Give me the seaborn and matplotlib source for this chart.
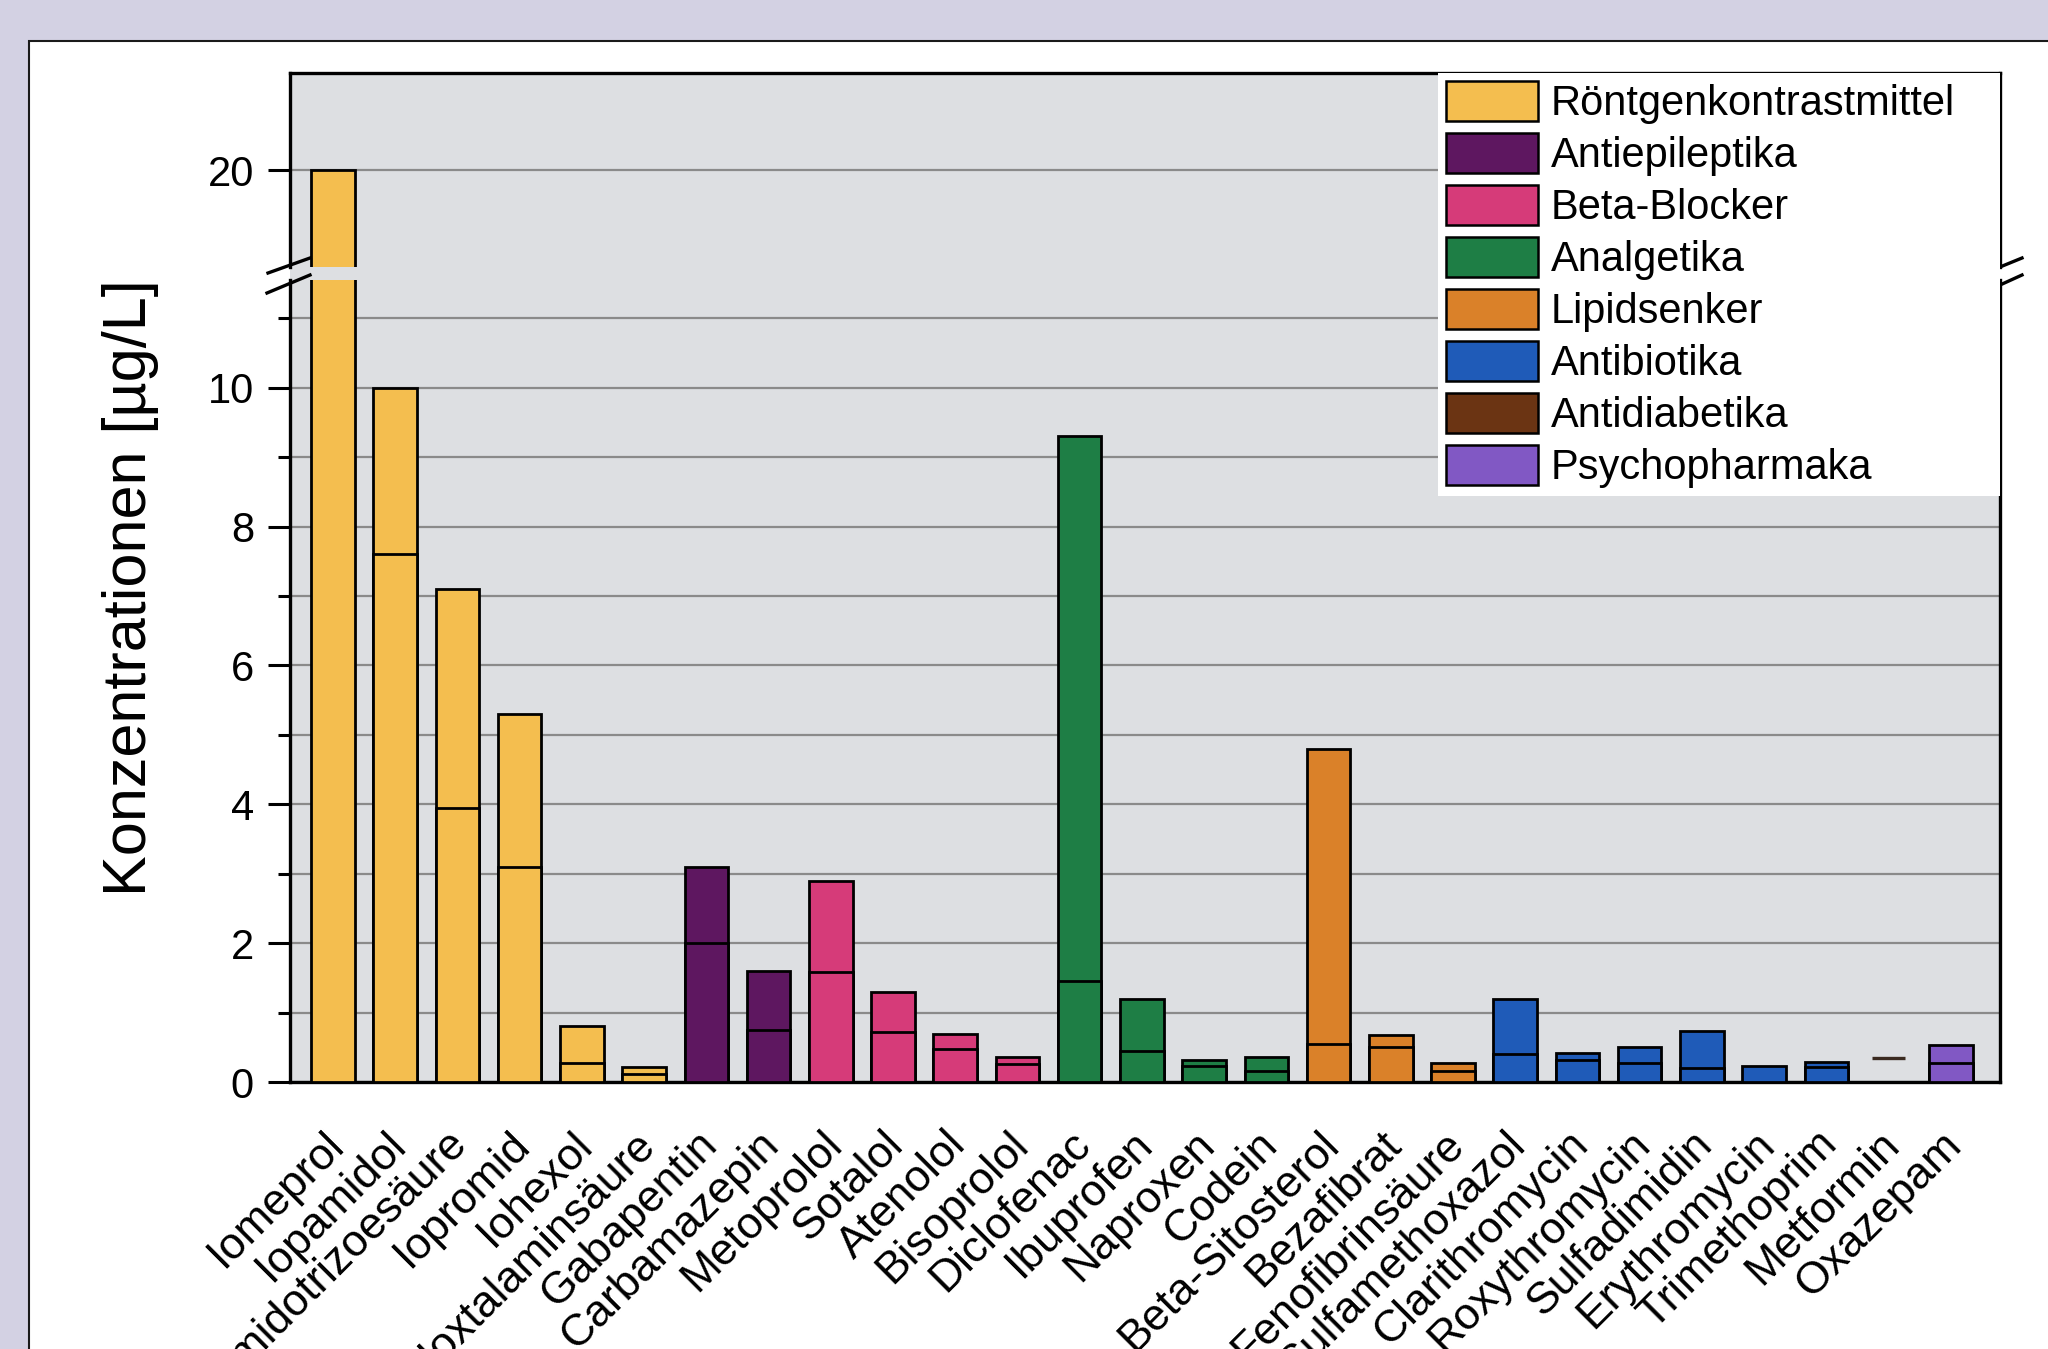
import numpy as np
import pandas as pd
import matplotlib
matplotlib.use("Agg")
import matplotlib.pyplot as plt
import matplotlib.transforms as mtransforms
import seaborn as sns
from matplotlib.patches import Patch, Rectangle
from matplotlib.lines import Line2D

# ---------------- data ----------------
substances = ["Iomeprol", "Iopamidol", "Amidotrizoesäure", "Iopromid", "Iohexol",
              "Ioxtalaminsäure", "Gabapentin", "Carbamazepin", "Metoprolol", "Sotalol",
              "Atenolol", "Bisoprolol", "Diclofenac", "Ibuprofen", "Naproxen", "Codein",
              "Beta-Sitosterol", "Bezafibrat", "Fenofibrinsäure", "Sulfamethoxazol",
              "Clarithromycin", "Roxythromycin", "Sulfadimidin", "Erythromycin",
              "Trimethoprim", "Metformin", "Oxazepam"]
groups = ["Röntgenkontrastmittel", "Antiepileptika", "Beta-Blocker", "Analgetika",
          "Lipidsenker", "Antibiotika", "Antidiabetika", "Psychopharmaka"]
group_of = (["Röntgenkontrastmittel"] * 6 + ["Antiepileptika"] * 2 + ["Beta-Blocker"] * 4
            + ["Analgetika"] * 4 + ["Lipidsenker"] * 3 + ["Antibiotika"] * 6
            + ["Antidiabetika"] + ["Psychopharmaka"])
max_values = [20.0, 10.0, 7.1, 5.3, 0.81, 0.22, 3.1, 1.6, 2.9, 1.3, 0.69, 0.36, 9.3, 1.2,
              0.32, 0.36, 4.8, 0.68, 0.28, 1.2, 0.42, 0.51, 0.74, 0.23, 0.29, 0.35, 0.53]
inner_values = [np.nan, 7.6, 3.95, 3.1, 0.28, 0.12, 2.0, 0.75, 1.58, 0.72, 0.48, 0.26, 1.46,
                0.44, 0.23, 0.16, 0.55, 0.50, 0.16, 0.40, 0.32, 0.28, 0.20, np.nan, 0.22,
                np.nan, 0.27]
line_only = ["Metformin"]
group_colors = ["#F4BE4F", "#5E1760", "#D63B79", "#1E7E45", "#DA8129", "#1F5BB8",
                "#6B3413", "#8158C4"]
y_ticks_low = [0, 2, 4, 6, 8, 10]
y_ticks_high = [20]

# ---------------- setup ----------------
plt.rcParams["font.family"] = ["Liberation Sans", "DejaVu Sans"]
W, H = 2048, 1349
def fx(p): return p / W
def fy(p): return 1 - p / H

palette = dict(zip(groups, group_colors))
df = pd.DataFrame({"Substanz": substances, "Gruppe": group_of,
                   "Max": max_values, "Innen": inner_values})
df_bar = df[~df["Substanz"].isin(line_only)]
df_inner = df_bar.dropna(subset=["Innen"])
df_line = df[df["Substanz"].isin(line_only)]

bg = "#DDDFE2"
fig = plt.figure(figsize=(20.48, 13.49), dpi=100, facecolor="#D3D1E3")
fig.add_artist(Rectangle((fx(29), -0.1), 1.2, fy(41) + 0.1, transform=fig.transFigure,
                         facecolor="white", edgecolor="#1a1a1a", lw=1.5, zorder=-2))

left, right = 290, 2000
# background continues through the axis break
fig.add_artist(Rectangle((fx(left), fy(281)), fx(right) - fx(left), (281 - 266) / H,
                         transform=fig.transFigure, facecolor=bg, edgecolor="none",
                         zorder=-1))
ax_lo = fig.add_axes([fx(left), fy(1082), fx(right) - fx(left), (1082 - 280) / H])
ax_hi = fig.add_axes([fx(left), fy(267), fx(right) - fx(left), (267 - 73) / H])

bw = 0.7
for ax in (ax_lo, ax_hi):
    ax.set_facecolor(bg)
    sns.barplot(data=df_bar, x="Substanz", y="Max", hue="Gruppe", order=substances,
                hue_order=groups, palette=palette, dodge=False, width=bw, saturation=1,
                edgecolor="black", linewidth=2.0, legend=False, ax=ax, zorder=3)
    sns.barplot(data=df_inner, x="Substanz", y="Innen", hue="Gruppe", order=substances,
                hue_order=groups, palette=palette, dodge=False, width=bw, saturation=1,
                edgecolor="black", linewidth=2.0, legend=False, ax=ax, zorder=4)
    for _, r in df_line.iterrows():
        i = substances.index(r["Substanz"])
        ax.hlines(r["Max"], i - bw / 2 + 0.08, i + bw / 2 - 0.08, color="#3a2a20",
                  lw=2.4, zorder=4)
    ax.set_xlim(-0.69, 26.79)
    ax.set_xlabel("")
    ax.set_ylabel("")
    ax.set_axisbelow(True)
    for s in ax.spines.values():
        s.set_linewidth(2.4)
        s.set_color("black")

ax_lo.set_ylim(0, 11.55)
ax_lo.set_yticks(y_ticks_low)
ax_lo.set_yticks([1, 3, 5, 7, 9, 11], minor=True)
ax_lo.grid(axis="y", which="both", color="#8A8A8A", lw=1.6)
ax_lo.spines["top"].set_visible(False)
ax_lo.tick_params(axis="y", which="major", length=16, width=2.2, labelsize=30, pad=10)
ax_lo.tick_params(axis="y", which="minor", length=9, width=2.2)
ax_lo.tick_params(axis="x", length=0, pad=14)
ax_lo.set_xticks(range(len(substances)))
ax_lo.set_xticklabels(substances, rotation=45, ha="right", va="top",
                      rotation_mode="anchor", fontsize=32)
shift = mtransforms.ScaledTranslation(-0.10, -0.22, fig.dpi_scale_trans)
for lab in ax_lo.get_xticklabels():
    lab.set_transform(lab.get_transform() + shift)

ax_hi.set_ylim(18.6, 21.4)
ax_hi.set_yticks(y_ticks_high)
ax_hi.grid(axis="y", which="major", color="#8A8A8A", lw=1.6)
ax_hi.spines["bottom"].set_visible(False)
ax_hi.tick_params(axis="y", which="major", length=16, width=2.2, labelsize=30, pad=10)
ax_hi.tick_params(axis="x", length=0, labelbottom=False)

# break marks
for (x0, y0, x1, y1) in [(268, 273, 310, 258), (267, 293, 310, 275),
                         (2000, 267, 2022, 258), (2000, 285, 2022, 275)]:
    fig.add_artist(Line2D([fx(x0), fx(x1)], [fy(y0), fy(y1)], transform=fig.transFigure,
                          color="black", lw=2.4))

fig.text(fx(131), fy(588), "Konzentrationen [µg/L]", rotation=90, fontsize=44,
         ha="center", va="center")

handles = [Patch(facecolor=palette[g], edgecolor="black", lw=1.8) for g in groups]
fig.legend(handles, groups, loc="upper left",
           bbox_to_anchor=(fx(1438), fy(500), fx(2000) - fx(1438), fy(73) - fy(500)),
           mode="expand", frameon=True, facecolor="white", edgecolor="none",
           framealpha=1, fancybox=False, fontsize=30, handlelength=2.2,
           handleheight=1.1, labelspacing=0.21, handletextpad=0.3, borderpad=0.2,
           borderaxespad=0)

fig.savefig("out.png", dpi=100)
